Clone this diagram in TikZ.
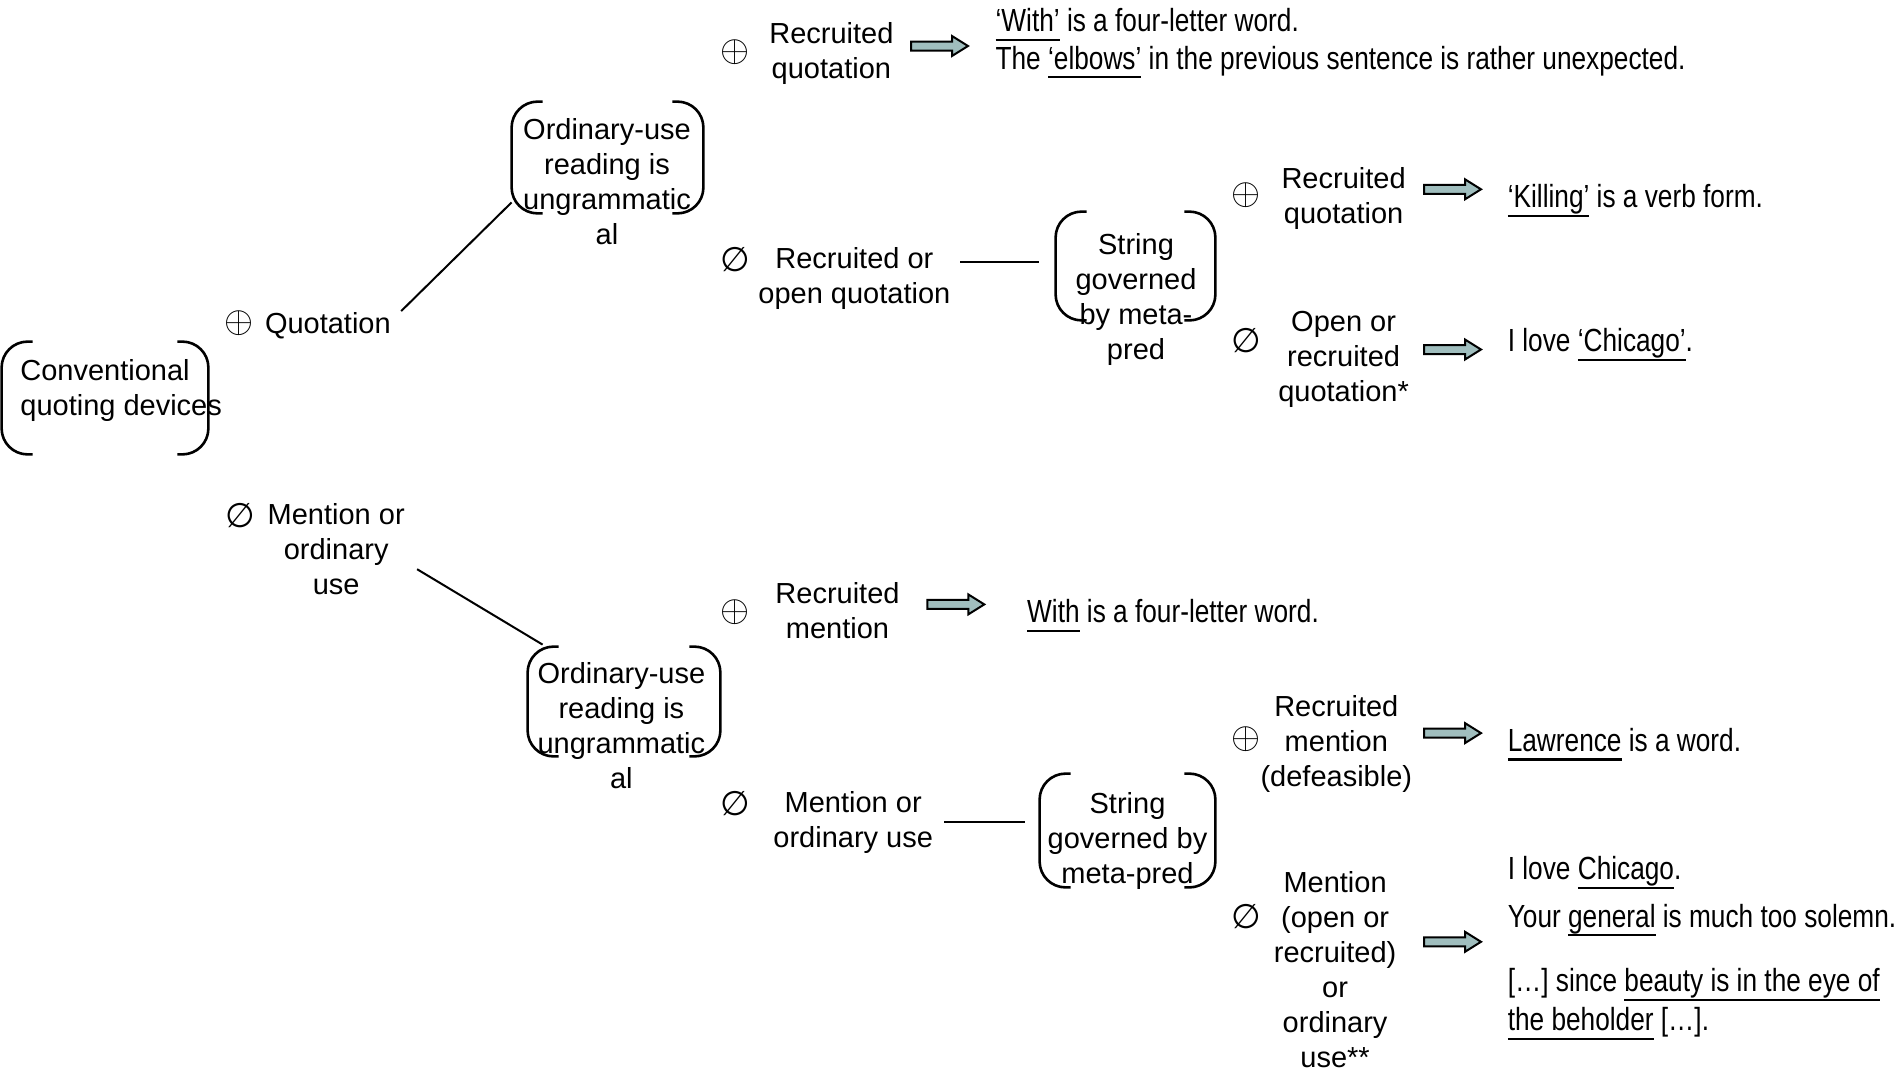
\documentclass[tikz,border=0pt]{standalone}
\usepackage{fontspec}
\setmainfont{Liberation Sans}
\newfontfamily\narrowfont[FakeStretch=0.82]{Liberation Sans}
\newfontfamily\symfont{DejaVu Sans}
\usetikzlibrary{calc}
\definecolor{arrfill}{RGB}{160,190,190}
\newcommand\ulx[1]{\setbox0\hbox{#1}\rlap{\rule[-4.6pt]{\wd0}{1.05pt}}\box0\relax}
\newcommand\oplusx{\scalebox{1.08}{$\oplus$}}
\newcommand\brk[1]{%
  \draw[brkline] ([xshift=15.5pt]#1.north west) -- (#1.north west) -- (#1.south west) -- ([xshift=15.5pt]#1.south west);
  \draw[brkline] ([xshift=-15.5pt]#1.north east) -- (#1.north east) -- (#1.south east) -- ([xshift=-15.5pt]#1.south east);}
\tikzset{
  barrow/.pic={\draw[line width=1pt, fill=arrfill, line join=miter] (0,-4.5) -- (41,-4.5) -- (41,-10) -- (57,0) -- (41,10) -- (41,4.5) -- (0,4.5) -- cycle;}
}
\begin{document}
\begin{tikzpicture}[x=0.5pt, y=-0.5pt,
  lab/.style={font=\fontsize{14.5}{17.5}\selectfont, align=center, inner sep=0pt, yshift=-1.2pt,
              execute at begin node=\strut, execute at end node=\strut},
  sym/.style={font=\symfont\fontsize{17}{20}\selectfont, inner sep=0pt},
  ex/.style={font=\narrowfont\fontsize{16}{18.8}\selectfont, anchor=base west, inner sep=0pt, yshift=-1.2pt},
  bbox/.style={inner sep=0pt, draw=none},
  brkline/.style={line width=1.3pt, rounded corners=13pt},
  conn/.style={line width=1pt}]
\useasboundingbox (0,0) rectangle (1903,1071);

% ---------- left root ----------
\node[bbox, minimum width=103pt, minimum height=56pt] (convBox) at (105,398) {};
\brk{convBox}
\node[lab, align=left, anchor=west] (conv) at (20,390.5) {Conventional\\quoting devices};

\node[sym] (s0) at (239.1,322.8) {\oplusx};
\node[lab, anchor=west] (quot) at (264.6,323.6) {Quotation};
\node[sym] (s1) at (240.3,515.8) {∅};
\node[lab] (mention) at (336.2,551.8) {Mention or\\ordinary\\use};

% ---------- upper branch ----------
\node[bbox, minimum width=95.5pt, minimum height=55.5pt] (ordA) at (607.5,157.5) {};
\brk{ordA}
\node[lab] (ordAt) at (607,184.7) {Ordinary-use\\reading is\\ungrammatic\\al};
\draw[conn] ([xshift=5pt,yshift=-1.5pt]quot.north east) -- ([yshift=5.5pt]ordA.south west);

\node[sym] (s2) at (735.5,52.2) {\oplusx};
\node[lab] (recQa) at (831.4,53.6) {Recruited\\quotation};
\pic at (911,46) {barrow};
\node[ex] (ex1a) at (995.2,29.1) {\ulx{‘With’} is a four-letter word.};
\node[ex] (ex1b) at (995.2,66.8) {The \ulx{‘elbows’} in the previous sentence is rather unexpected.};

\node[sym] (s3) at (735.5,259.7) {∅};
\node[lab] (recOpen) at (854.4,278.1) {Recruited or\\open quotation};

\node[bbox, minimum width=79.5pt, minimum height=54pt] (strA) at (1135.5,266) {};
\brk{strA}
\node[lab] (strAt) at (1136,299) {String\\governed\\by meta-\\pred};
\coordinate (c3) at (960,261.7);
\draw[conn] (c3) -- (c3 -| {$(strA.west)+(-16.5,0)$});

\node[sym] (s4) at (1246.5,195.4) {\oplusx};
\node[lab] (recQb) at (1343.6,198) {Recruited\\quotation};
\pic at (1424,189.3) {barrow};
\node[ex] (ex2) at (1507.4,205) {\ulx{‘Killing’} is a verb form.};

\node[sym] (s5) at (1246.5,341) {∅};
\node[lab] (openRec) at (1343.6,358.8) {Open or\\recruited\\quotation*};
\pic at (1424,349.5) {barrow};
\node[ex] (ex3) at (1507.4,349.5) {I love \ulx{‘Chicago’}.};

% ---------- lower branch ----------
\node[bbox, minimum width=96pt, minimum height=54.5pt] (ordB) at (624,701.5) {};
\brk{ordB}
\node[lab] (ordBt) at (621.4,728.4) {Ordinary-use\\reading is\\ungrammatic\\al};
\draw[conn] ([xshift=6pt,yshift=-7.5pt]mention.east) -- ([xshift=7.5pt,yshift=1pt]ordB.north west);

\node[sym] (s6) at (735.5,611.7) {\oplusx};
\node[lab] (recM) at (837.5,613.1) {Recruited\\mention};
\pic at (927.3,604.4) {barrow};
\node[ex] (ex4) at (1026.8,620.2) {\ulx{With} is a four-letter word.};

\node[sym] (s7) at (735.5,803.5) {∅};
\node[lab] (mentOrd) at (853.2,821.9) {Mention or\\ordinary use};

\node[bbox, minimum width=87.5pt, minimum height=56.5pt] (strB) at (1127.5,830.5) {};
\brk{strB}
\node[lab] (strBt) at (1127.5,840.7) {String\\governed by\\meta-pred};
\coordinate (c4) at (944.3,821.7);
\draw[conn] (c4) -- (c4 -| {$(strB.west)+(-14.5,0)$});

\node[sym] (s8) at (1246.5,739.1) {\oplusx};
\node[lab] (recMd) at (1336.3,743.6) {Recruited\\mention\\(defeasible)};
\pic at (1424,733.1) {barrow};
\node[ex] (ex5) at (1507.4,748.9) {\ulx{Lawrence} is a word.};

\node[sym] (s9) at (1246.5,916.3) {∅};
\node[lab] (mentOpen) at (1335.1,972.4) {Mention\\(open or\\recruited)\\or\\ordinary\\use**};
\pic at (1424,941.8) {barrow};
\node[ex] (ex6a) at (1507.4,877.5) {I love \ulx{Chicago}.};
\node[ex] (ex6b) at (1507.4,924.8) {Your \ulx{general} is much too solemn.};
\node[ex] (ex6c) at (1507.4,989.2) {[…] since \ulx{beauty is in the eye of}};
\node[ex] (ex6d) at (1507.4,1028) {\ulx{the beholder} […].};
\end{tikzpicture}
\end{document}
